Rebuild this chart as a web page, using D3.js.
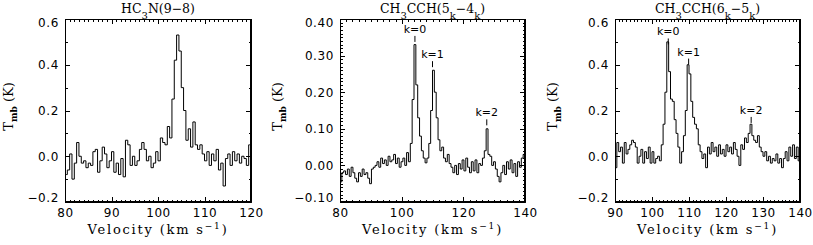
<!DOCTYPE html>
<html>
<head>
<meta charset="utf-8">
<title>Spectra</title>
<style>
  body { margin: 0; background: #fff; }
  text { fill: #000; }
  .title, .xlabel, .ylabel { font-family: 'DejaVu Serif', serif; }
  .klabel { font-family: 'DejaVu Sans', sans-serif; font-size: 11px; }
</style>
</head>
<body>
<svg id="chart" width="813" height="245"></svg>
<script src="https://cdn.jsdelivr.net/npm/d3@7/dist/d3.min.js"></script>
<script>
// ---- data ----
// HC3N(9-8): channels of 0.5 km/s starting at 80 km/s
var hc3nStart = 80.0, hc3nStep = 0.5;
var hc3nT = [
  -0.08, -0.06, 0.01, -0.10, -0.03, 0.06, 0.00, -0.03, -0.02, -0.05,
  -0.03, -0.04, 0.02, 0.03, -0.07, -0.02, 0.04, 0.01, -0.05, -0.02,
  0.02, -0.07, -0.03, -0.08, -0.01, -0.09, 0.07, 0.05, -0.04, 0.00,
  -0.04, -0.02, 0.03, 0.06, 0.03, -0.02, 0.00, -0.05, -0.03, 0.02,
  -0.02, 0.08, 0.06, 0.05, 0.13, 0.08, 0.25, 0.42, 0.53, 0.46,
  0.30, 0.20, 0.07, 0.12, 0.04, 0.15, 0.05, 0.03, 0.05, 0.01,
  -0.02, 0.02, -0.04, 0.01, -0.02, 0.03, -0.06, -0.03, -0.13, -0.01,
  0.01, -0.04, 0.02, -0.02, 0.01, -0.03, 0.00, -0.01, -0.04, 0.05
];

// CH3CCH(5k-4k): channels of 0.6 km/s starting at 80 km/s
var ch3cch54Start = 80.0, ch3cch54Step = 0.6;
var ch3cch54T = [
  -0.045, -0.02, -0.015, -0.025, -0.01, -0.03, -0.005, -0.02, -0.035, -0.045,
  -0.02, -0.03, -0.01, -0.025, -0.02, -0.035, -0.05, -0.01, -0.005, 0.0,
  0.01, -0.005, 0.02, 0.005, 0.015, 0.0, 0.025, 0.01, 0.015, 0.03,
  0.005, 0.02, -0.005, 0.01, 0.02, 0.0, 0.035, 0.01, 0.06, 0.18,
  0.33, 0.22, 0.13, 0.08, 0.04, 0.02, 0.007, 0.02, 0.06, 0.15,
  0.26, 0.20, 0.13, 0.07, 0.04, 0.05, 0.02, 0.01, 0.03, 0.005,
  -0.005, -0.02, 0.0, -0.025, 0.005, -0.01, 0.015, -0.015, 0.02, -0.005,
  -0.02, 0.01, -0.015, 0.015, -0.02, 0.005, 0.0, 0.02, 0.04, 0.10,
  0.03, 0.025, 0.0, 0.01, -0.01, -0.03, -0.045, -0.02, 0.0, -0.025,
  0.01, -0.01, 0.015, -0.02, 0.005, -0.03, 0.01, -0.005, 0.02, 0.03
];

// CH3CCH(6k-5k): channels of 0.5 km/s starting at 90 km/s
var ch3cch65Start = 90.0, ch3cch65Step = 0.5;
var ch3cch65T = [
  -0.05, 0.06, 0.02, 0.04, -0.03, 0.06, 0.01, 0.03, 0.05, 0.07,
  0.06, 0.04, -0.03, 0.00, 0.03, -0.03, 0.02, -0.01, 0.04, -0.03,
  0.02, -0.03, -0.01, 0.00, -0.02, 0.05, 0.14, 0.28, 0.50, 0.37,
  0.25, 0.24, 0.16, 0.10, 0.04, -0.03, 0.02, 0.09, 0.20, 0.40,
  0.36, 0.24, 0.17, 0.14, 0.12, 0.05, 0.02, -0.01, 0.01, -0.05,
  0.04, 0.01, 0.06, 0.02, 0.04, 0.00, 0.05, 0.01, 0.03, 0.00,
  0.05, 0.02, 0.04, 0.01, 0.06, 0.03, 0.00, -0.04, 0.05, 0.03,
  0.08, 0.06, 0.10, 0.14, 0.09, 0.07, 0.06, 0.09, 0.04, 0.02,
  0.00, 0.02, -0.02, 0.00, -0.03, -0.01, -0.02, 0.01, -0.03, -0.01,
  -0.05, -0.01, 0.02, -0.02, 0.04, 0.00, 0.05, -0.01, 0.04, -0.02
];

// K-ladder markers (velocity, height of label baseline in K)
var kLabels = ['k=0', 'k=1', 'k=2'];
var ch3cch54KVel = [104.3, 110.0, 127.6];
var ch3cch54KT = [0.362, 0.293, 0.134];
var ch3cch65KVel = [104.4, 109.9, 126.8];
var ch3cch65KT = [0.528, 0.44, 0.185];

// tick labels
var hc3nXTicks = [80, 90, 100, 110, 120];
var hc3nYTicks = [-0.2, 0.0, 0.2, 0.4, 0.6];
var ch3cch54XTicks = [80, 100, 120, 140];
var ch3cch54YTicks = [-0.10, 0.00, 0.10, 0.20, 0.30, 0.40];
var ch3cch65XTicks = [90, 100, 110, 120, 130, 140];
var ch3cch65YTicks = [-0.2, 0.0, 0.2, 0.4, 0.6];

var svg = d3.select('#chart');

var panels = [
  { main: 'HC', sub1: '3', rest: 'N(9\u22128)', kSub: false,
    start: hc3nStart, step: hc3nStep, values: hc3nT,
    xDomain: [80, 120], yDomain: [-0.2, 0.6],
    xTicks: hc3nXTicks, yTicks: hc3nYTicks, xMinor: 1, yMinor: 0.1, yFmt: '.1f',
    left: 65, right: 251, top: 19, bottom: 202, ylabX: 13 },
  { main: 'CH', sub1: '3', rest: 'CCH(', k1: '5', k2: '4', kSub: true,
    start: ch3cch54Start, step: ch3cch54Step, values: ch3cch54T,
    kVel: ch3cch54KVel, kT: ch3cch54KT,
    xDomain: [80, 140], yDomain: [-0.1, 0.4],
    xTicks: ch3cch54XTicks, yTicks: ch3cch54YTicks, xMinor: 2, yMinor: 0.01, yFmt: '.2f',
    left: 340, right: 525, top: 19, bottom: 202, ylabX: 282 },
  { main: 'CH', sub1: '3', rest: 'CCH(', k1: '6', k2: '5', kSub: true,
    start: ch3cch65Start, step: ch3cch65Step, values: ch3cch65T,
    kVel: ch3cch65KVel, kT: ch3cch65KT,
    xDomain: [90, 140], yDomain: [-0.2, 0.6],
    xTicks: ch3cch65XTicks, yTicks: ch3cch65YTicks, xMinor: 1, yMinor: 0.1, yFmt: '.1f',
    left: 615, right: 800, top: 19, bottom: 202, ylabX: 557 }
];

function minorTicks(domain, stepSize, majors) {
  var out = [];
  var n = Math.round((domain[1] - domain[0]) / stepSize);
  for (var i = 0; i <= n; i++) {
    var v = +(domain[0] + i * stepSize).toFixed(6);
    var isMajor = majors.some(function(m) { return Math.abs(m - v) < 1e-6; });
    if (!isMajor) out.push(v);
  }
  return out;
}

panels.forEach(function(p, idx) {
  var x = d3.scaleLinear().domain(p.xDomain).range([p.left, p.right]);
  var y = d3.scaleLinear().domain(p.yDomain).range([p.bottom, p.top]);
  var g = svg.append('g');

  // clip
  g.append('clipPath').attr('id', 'clip' + idx)
    .append('rect')
    .attr('x', p.left).attr('y', p.top)
    .attr('width', p.right - p.left).attr('height', p.bottom - p.top);

  var pts = p.values.map(function(t, i) {
    return { v: p.start + (i + 0.5) * p.step, t: t };
  });

  var line = d3.line()
    .x(function(d) { return x(d.v); })
    .y(function(d) { return y(d.t); })
    .curve(d3.curveStep);

  g.append('path')
    .datum(pts)
    .attr('clip-path', 'url(#clip' + idx + ')')
    .attr('fill', 'none')
    .attr('stroke', '#000')
    .attr('stroke-width', 1)
    .attr('d', line);

  // axes (ticks pointing inward, IDL style)
  var xMin = minorTicks(p.xDomain, p.xMinor, p.xTicks);
  var yMin = minorTicks(p.yDomain, p.yMinor, p.yTicks);
  var fmt = d3.format(p.yFmt);

  function styleAxis(sel) {
    sel.select('.domain').remove();
    sel.selectAll('line').attr('stroke-width', 1).attr('shape-rendering', 'crispEdges');
    sel.selectAll('text')
      .attr('font-family', "'DejaVu Sans', sans-serif")
      .attr('font-size', '12px')
      .attr('letter-spacing', '0.6px');
  }

  var gb = g.append('g').attr('transform', 'translate(0,' + p.bottom + ')');
  gb.call(d3.axisBottom(x).tickValues(p.xTicks).tickSize(-5).tickPadding(6).tickFormat(d3.format('d')));
  gb.append('g').call(d3.axisBottom(x).tickValues(xMin).tickSize(-2.5).tickFormat(''));
  gb.call(styleAxis);

  var gt = g.append('g').attr('transform', 'translate(0,' + p.top + ')');
  gt.call(d3.axisTop(x).tickValues(p.xTicks).tickSize(-5).tickFormat(''));
  gt.append('g').call(d3.axisTop(x).tickValues(xMin).tickSize(-2.5).tickFormat(''));
  gt.call(styleAxis);

  var gl = g.append('g').attr('transform', 'translate(' + p.left + ',0)');
  gl.call(d3.axisLeft(y).tickValues(p.yTicks).tickSize(-5).tickPadding(6).tickFormat(fmt));
  gl.append('g').call(d3.axisLeft(y).tickValues(yMin).tickSize(-2.5).tickFormat(''));
  gl.call(styleAxis);
  // extreme labels sit slightly inside the frame
  gl.selectAll('.tick text').attr('y', function(d) {
    if (d === p.yDomain[1]) return 4;
    if (d === p.yDomain[0]) return -4;
    return 0;
  });

  var gr = g.append('g').attr('transform', 'translate(' + p.right + ',0)');
  gr.call(d3.axisRight(y).tickValues(p.yTicks).tickSize(-5).tickFormat(''));
  gr.append('g').call(d3.axisRight(y).tickValues(yMin).tickSize(-2.5).tickFormat(''));
  gr.call(styleAxis);

  // frame
  g.append('rect')
    .attr('x', p.left + 0.5).attr('y', p.top + 0.5)
    .attr('width', p.right - p.left - 1).attr('height', p.bottom - p.top - 1)
    .attr('fill', 'none').attr('stroke', '#000').attr('stroke-width', 1);

  // title
  var cx = (p.left + p.right) / 2;
  var title = g.append('text').attr('class', 'title')
    .attr('x', cx).attr('y', 13)
    .attr('text-anchor', 'middle')
    .attr('font-size', '12.5px');
  title.append('tspan').text(p.main);
  title.append('tspan').attr('dy', 6).attr('font-size', '10px').text(p.sub1);
  title.append('tspan').attr('dy', -6).text(p.rest);
  if (p.kSub) {
    title.append('tspan').text(p.k1);
    title.append('tspan').attr('dy', 6).attr('font-size', '10px').text('k');
    title.append('tspan').attr('dy', -6).text('\u2212' + p.k2);
    title.append('tspan').attr('dy', 6).attr('font-size', '10px').text('k');
    title.append('tspan').attr('dy', -6).text(')');
  }

  // x label
  var xl = g.append('text').attr('class', 'xlabel')
    .attr('x', cx).attr('y', 234)
    .attr('text-anchor', 'middle')
    .attr('font-size', '13px')
    .attr('letter-spacing', '1.8px');
  xl.append('tspan').text('Velocity (km s');
  xl.append('tspan').attr('dy', -5).attr('font-size', '9px').text('\u22121');
  xl.append('tspan').attr('dy', 5).text(')');

  // y label
  var cy = (p.top + p.bottom) / 2 - 4;
  var yl = g.append('text').attr('class', 'ylabel')
    .attr('transform', 'translate(' + p.ylabX + ',' + cy + ') rotate(-90)')
    .attr('text-anchor', 'middle')
    .attr('font-size', '13px');
  yl.append('tspan').text('T');
  yl.append('tspan').attr('dy', 4).attr('font-size', '9px').attr('font-weight', 'bold').text('mb');
  yl.append('tspan').attr('dy', -4).text(' (K)');

  // k markers
  if (p.kVel) {
    p.kVel.forEach(function(v, i) {
      g.append('text').attr('class', 'klabel')
        .attr('x', x(v)).attr('y', y(p.kT[i]))
        .attr('text-anchor', 'middle')
        .text(kLabels[i]);
      g.append('line')
        .attr('x1', x(v)).attr('x2', x(v))
        .attr('y1', y(p.kT[i]) + 3).attr('y2', y(p.kT[i]) + 9)
        .attr('stroke', '#000').attr('stroke-width', 1);
    });
  }
});
</script>
</body>
</html>
